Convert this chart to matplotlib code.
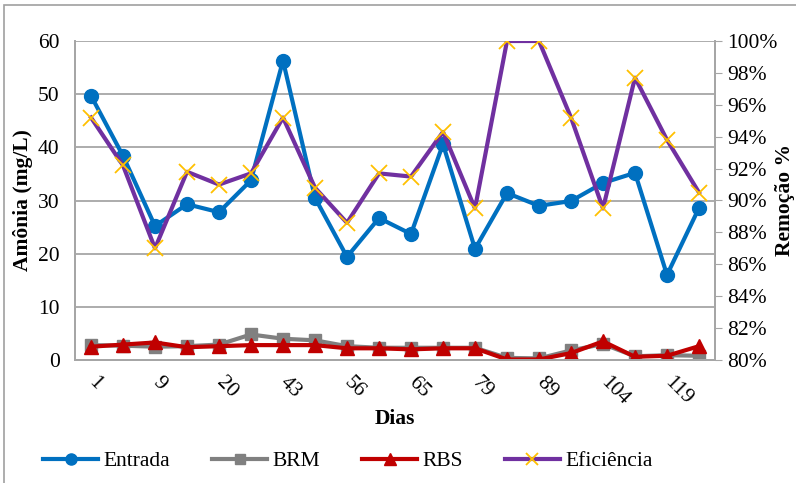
import matplotlib.pyplot as plt
from matplotlib.patches import Rectangle
from matplotlib.ticker import PercentFormatter

plt.rcParams['font.family'] = ['Liberation Serif', 'DejaVu Serif']

dias = ["1", "", "9", "", "20", "", "43", "", "56", "", "65", "", "79", "", "89", "", "104", "", "119", ""]

entrada = [49.7, 38.4, 25.2, 29.3, 27.8, 33.8, 56.3, 30.5, 19.4, 26.7,
           23.7, 40.6, 20.9, 31.4, 29.0, 29.9, 33.3, 35.2, 16.0, 28.6]
brm = [2.8, 2.7, 2.5, 2.6, 2.9, 4.8, 4.0, 3.7, 2.6, 2.3,
       2.3, 2.3, 2.3, 0.4, 0.3, 1.8, 3.0, 0.7, 0.9, 0.8]
rbs = [2.5, 2.9, 3.3, 2.4, 2.6, 2.8, 2.8, 2.8, 2.2, 2.2,
       2.0, 2.2, 2.2, 0.1, 0.1, 1.3, 3.5, 0.6, 0.8, 2.6]
eficiencia = [95.2, 92.2, 87.0, 91.8, 91.0, 91.7, 95.2, 90.8, 88.6, 91.7,
              91.5, 94.3, 89.5, 100.0, 100.0, 95.2, 89.5, 97.7, 93.8, 90.5]

x = list(range(len(entrada)))
fs = 15.5

fig = plt.figure(figsize=(7.96, 4.83), dpi=100)
ax1 = fig.add_axes([75 / 796, 1 - 360 / 483, 640 / 796, 319 / 483])
ax2 = ax1.twinx()

# outer frame of the chart area
fig.patches.append(Rectangle((4 / 796, -0.1), 1.2, 1 - 5 / 483 + 0.1, transform=fig.transFigure,
                             fill=False, edgecolor='#a0a0a0', linewidth=1.2))

l1, = ax1.plot(x, entrada, color='#0070C0', lw=3, marker='o', markersize=10, label='Entrada')
l2, = ax1.plot(x, brm, color='#808080', lw=3, marker='s', markersize=9, label='BRM')
l3, = ax1.plot(x, rbs, color='#C00000', lw=3, marker='^', markersize=10, label='RBS')
l4, = ax2.plot(x, eficiencia, color='#7030A0', lw=3, marker='x', markersize=11,
               markeredgecolor='#FFC000', markeredgewidth=1.3, label='Eficiência')

ax1.set_xlim(-0.5, len(x) - 0.5)
ax1.set_ylim(0, 60)
ax1.set_yticks(range(0, 61, 10))
ax2.set_ylim(80, 100)
ax2.set_yticks(range(80, 101, 2))
ax2.yaxis.set_major_formatter(PercentFormatter(decimals=0))

ax1.grid(axis='y', color='#a6a6a6', lw=1.3)
ax1.set_axisbelow(True)
for ax in (ax1, ax2):
    for s in ax.spines.values():
        s.set_color('#a6a6a6')
        s.set_linewidth(1.3)
    ax.spines['top'].set_visible(False)

ax1.set_xticks(x)
ax1.set_xticklabels(dias, rotation=-45, ha='left', va='center', rotation_mode='anchor')
ax1.tick_params(axis='x', length=0, pad=14, labelsize=fs)
ax1.tick_params(axis='y', length=0, labelsize=fs, pad=11)
ax2.tick_params(axis='y', length=5, color='#a6a6a6', labelsize=fs, pad=4)

ax1.set_xlabel('Dias', fontsize=fs, fontweight='bold', labelpad=0)
ax1.set_ylabel('Amônia (mg/L)', fontsize=fs, fontweight='bold', labelpad=4)
ax2.set_ylabel('Remoção %', fontsize=fs, fontweight='bold', labelpad=-2)

fig.legend(handles=[l1, l2, l3, l4], loc='center', bbox_to_anchor=(348 / 796, 1 - 461 / 483),
           ncol=4, frameon=False, fontsize=fs, handlelength=2.55, columnspacing=1.95,
           handletextpad=0.25, markerscale=0.8)

fig.savefig('out.png', dpi=100)
